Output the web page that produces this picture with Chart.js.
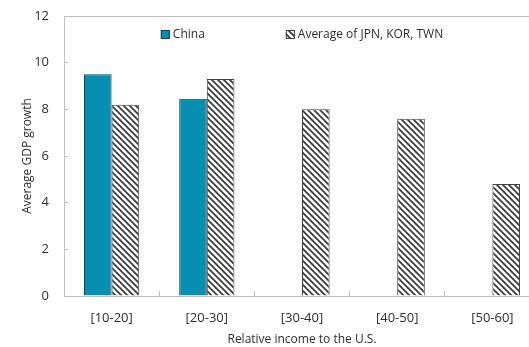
<!DOCTYPE html>
<html>
<head>
<meta charset="utf-8">
<script src="https://cdn.jsdelivr.net/npm/chart.js@4/dist/chart.umd.min.js"></script>
<style>
  html, body { margin: 0; padding: 0; background: #fff; overflow: hidden; }
  #wrap { position: relative; width: 560px; height: 347px; }
</style>
</head>
<body>
<div id="wrap"><canvas id="chart"></canvas></div>
<script>
// Data
const categories = ['[10-20]', '[20-30]', '[30-40]', '[40-50]', '[50-60]'];
const chinaValues = [9.5, 8.45, null, null, null];
const asiaValues = [8.2, 9.3, 8.0, 7.6, 4.8];
const seriesNames = ['China', 'Average of JPN, KOR, TWN'];

const CHINA_COLOR = '#068fb0';
const AXIS_COLOR = '#bfbfbf';
const TEXT_COLOR = '#2e2e2e';
const FONT = "'Open Sans', 'Noto Sans', sans-serif";

Chart.defaults.font.family = FONT;
Chart.defaults.color = TEXT_COLOR;

// Diagonal hatch used for the JPN/KOR/TWN bars
function makeHatch() {
  const c = document.createElement('canvas');
  c.width = 6; c.height = 6;
  const g = c.getContext('2d');
  g.fillStyle = '#ffffff';
  g.fillRect(0, 0, 6, 6);
  g.strokeStyle = '#3a3a3a';
  g.lineWidth = 1.7;
  g.beginPath();
  g.moveTo(-1, -1); g.lineTo(7, 7);
  g.moveTo(-4, 2); g.lineTo(4, 10);
  g.moveTo(2, -4); g.lineTo(10, 4);
  g.stroke();
  return g.createPattern(c, 'repeat');
}

const canvas = document.getElementById('chart');
const hatch = makeHatch();

// Plot frame around the chart area
const framePlugin = {
  id: 'frame',
  beforeDatasetsDraw(chart) {
    const { ctx, chartArea: a } = chart;
    ctx.save();
    ctx.strokeStyle = AXIS_COLOR;
    ctx.lineWidth = 1;
    ctx.strokeRect(Math.round(a.left) + 0.5, Math.round(a.top) + 0.5, a.right - a.left, a.bottom - a.top);
    ctx.restore();
  },
};

// Legend drawn inside the plot area, centred like the original
const innerLegend = {
  id: 'innerLegend',
  afterDraw(chart) {
    const { ctx, chartArea: a } = chart;
    const box = 9, gapText = 3, gapItem = 81;
    ctx.save();
    ctx.font = '12px ' + FONT;
    ctx.textBaseline = 'middle';
    const widths = seriesNames.map(n => ctx.measureText(n).width);
    const total = widths.reduce((s, w) => s + box + gapText + w, 0) + gapItem;
    let x = (a.left + a.right) / 2 - total / 2;
    const y = a.top + 14;
    chart.data.datasets.forEach((ds, i) => {
      ctx.fillStyle = ds.backgroundColor;
      ctx.fillRect(x, y, box, box);
      ctx.strokeStyle = ds.borderColor;
      ctx.lineWidth = 1;
      ctx.strokeRect(x + 0.5, y + 0.5, box - 1, box - 1);
      ctx.fillStyle = TEXT_COLOR;
      ctx.fillText(seriesNames[i], x + box + gapText, y + box / 2 + 0.5);
      x += box + gapText + widths[i] + gapItem;
    });
    ctx.restore();
  },
};

new Chart(canvas, {
  type: 'bar',
  data: {
    labels: categories,
    datasets: [
      {
        label: seriesNames[0],
        data: chinaValues,
        backgroundColor: CHINA_COLOR,
        borderColor: '#24404c',
        borderWidth: 1,
      },
      {
        label: seriesNames[1],
        data: asiaValues,
        backgroundColor: hatch,
        borderColor: '#404040',
        borderWidth: 1,
      },
    ],
  },
  options: {
    responsive: true,
    maintainAspectRatio: false,
    animation: false,
    layout: { padding: { top: 16, right: 20, left: 0, bottom: 0 } },
    datasets: {
      bar: { categoryPercentage: 0.58, barPercentage: 1.0 },
    },
    plugins: {
      legend: { display: false },
      tooltip: { enabled: false },
    },
    scales: {
      x: {
        grid: { drawOnChartArea: false, color: AXIS_COLOR, tickLength: -5 },
        border: { color: AXIS_COLOR },
        ticks: { padding: 19, font: { size: 13 }, color: TEXT_COLOR },
        title: {
          display: true,
          text: 'Relative income to the U.S.',
          font: { size: 12 },
          color: TEXT_COLOR,
          padding: { top: 0, bottom: 0 },
        },
        afterFit(scale) { scale.height = 51; },
      },
      y: {
        min: 0,
        max: 12,
        grid: { drawOnChartArea: false, color: AXIS_COLOR, tickLength: -4 },
        border: { color: AXIS_COLOR },
        ticks: { stepSize: 2, padding: 19, font: { size: 13 }, color: TEXT_COLOR },
        title: {
          display: true,
          text: 'Average GDP growth',
          font: { size: 12 },
          color: TEXT_COLOR,
          padding: { top: 20, bottom: 0 },
        },
        afterFit(scale) {
          scale.width = 64;
          scale.paddingTop = 0;
          scale.paddingBottom = 0;
        },
      },
    },
  },
  plugins: [framePlugin, innerLegend],
});
</script>
</body>
</html>
